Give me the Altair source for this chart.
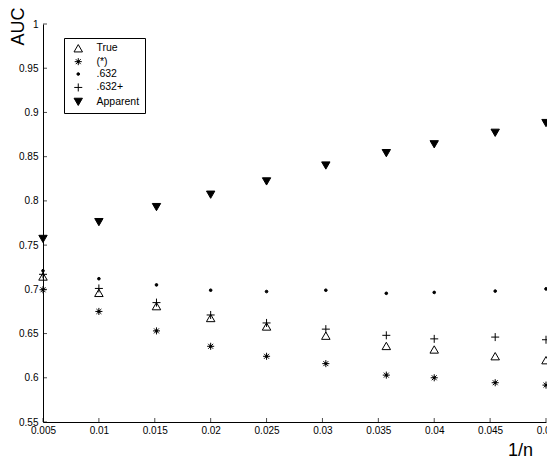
import altair as alt
import pandas as pd

# 1/n values (n = 200, 100, 66, 50, 40, 33, 28, 25, 22, 20)
x_vals = [0.005, 0.01, 0.015152, 0.02, 0.025, 0.030303, 0.035714, 0.04, 0.045455, 0.05]

series_names = ["True", "(*)", ".632", ".632+", "Apparent"]

true_vals = [0.7145, 0.696, 0.681, 0.6676, 0.658, 0.6476, 0.636, 0.632, 0.6244, 0.6199]
star_vals = [0.6995, 0.675, 0.653, 0.6356, 0.6243, 0.616, 0.603, 0.600, 0.5944, 0.5917]
b632_vals = [0.721, 0.712, 0.705, 0.699, 0.6975, 0.699, 0.6955, 0.6965, 0.698, 0.7005]
b632p_vals = [0.717, 0.701, 0.685, 0.671, 0.662, 0.655, 0.648, 0.644, 0.646, 0.643]
apparent_vals = [0.757, 0.776, 0.793, 0.807, 0.822, 0.840, 0.854, 0.864, 0.877, 0.888]

x_ticks = [0.005, 0.01, 0.015, 0.02, 0.025, 0.03, 0.035, 0.04, 0.045, 0.05]
y_ticks = [0.55, 0.6, 0.65, 0.7, 0.75, 0.8, 0.85, 0.9, 0.95, 1.0]

all_vals = [true_vals, star_vals, b632_vals, b632p_vals, apparent_vals]
rows = []
for name, vals in zip(series_names, all_vals):
    for x, v in zip(x_vals, vals):
        rows.append({"x": x, "auc": v, "series": name})
df = pd.DataFrame(rows)

W, H = 503, 398
FONT = "Liberation Sans"

asterisk = ("M-1,0L1,0M0,-1L0,1M-0.7,-0.7L0.7,0.7M-0.7,0.7L0.7,-0.7"
            "M-0.35,0L0,-0.35L0.35,0L0,0.35Z")
plus = "M-1,0L1,0M0,-1L0,1"

xscale = alt.Scale(domain=[0.005, 0.05], nice=False, zero=False)
yscale = alt.Scale(domain=[0.55, 1.0], nice=False, zero=False)

legend_common = dict(title=None, orient="none", legendX=21, legendY=14)

points = alt.Chart(df).mark_point(filled=False, stroke="black", strokeWidth=1, opacity=1).encode(
    x=alt.X("x:Q", scale=xscale, title="1/n",
            axis=alt.Axis(values=x_ticks, format="~g", title="1/n", ticks=False,
                          labelFontSize=10, labelPadding=3, labelFont=FONT,
                          labelOverlap=False, labelFlush=False, labelBound=False,
                          titleFontSize=18, titleFont=FONT, titleFontWeight="normal",
                          titleX=477, titleY=28, titleAnchor="start", titleAlign="center",
                          titleBaseline="middle")),
    y=alt.Y("auc:Q", scale=yscale, title="AUC",
            axis=alt.Axis(values=y_ticks, format="~g", title="AUC", ticks=False,
                          labelFontSize=10, labelPadding=5, labelFont=FONT,
                          labelOverlap=False, labelFlush=False, labelBound=False,
                          titleFontSize=18, titleFont=FONT, titleFontWeight="normal",
                          titleX=-25, titleY=2, titleAngle=270, titleAlign="center",
                          titleBaseline="middle", titleAnchor="start")),
    shape=alt.Shape("series:N", sort=series_names,
                    scale=alt.Scale(domain=series_names,
                                    range=["triangle-up", asterisk, "circle", plus, "triangle-down"]),
                    legend=alt.Legend(strokeColor="black", fillColor="white", padding=5,
                                      labelFontSize=10.5, labelFont=FONT, labelOffset=13,
                                      symbolOffset=4, rowPadding=1.4, cornerRadius=0,
                                      symbolStrokeColor="black", symbolStrokeWidth=1,
                                      **legend_common)),
    fill=alt.Fill("series:N", sort=series_names,
                  scale=alt.Scale(domain=series_names,
                                  range=["transparent", "black", "black", "transparent", "black"]),
                  legend=alt.Legend(**legend_common)),
    size=alt.Size("series:N", sort=series_names,
                  scale=alt.Scale(type="ordinal", domain=series_names, range=[72, 50, 7, 64, 70]),
                  legend=alt.Legend(**legend_common)),
)

xt = pd.DataFrame({"t": x_ticks})
yt = pd.DataFrame({"t": y_ticks})

xtick_marks = alt.Chart(xt).mark_tick(orient="vertical", color="black", thickness=1, size=4).encode(
    x=alt.X("t:Q", scale=xscale, title="1/n"),
    y=alt.value(H - 2),
)
ytick_marks = alt.Chart(yt).mark_tick(orient="horizontal", color="black", thickness=1, size=4).encode(
    y=alt.Y("t:Q", scale=yscale, title="AUC"),
    x=alt.value(2),
)

chart = alt.layer(points, xtick_marks, ytick_marks).properties(
    width=W, height=H,
    title=alt.TitleParams("Asymptotic Comparison for Estimators Performance",
                          fontSize=11, font=FONT, fontWeight="normal", anchor="middle",
                          offset=6, color="black"),
    autosize=alt.AutoSizeParams(type="none"),
    padding={"left": 35, "top": 16, "right": 1, "bottom": 37},
).configure_view(stroke=None).configure_axis(
    grid=False, domainColor="black", domainWidth=1, labelColor="black", titleColor="black"
).configure_legend(labelColor="black")

chart.save("out.html", embed_options={"renderer": "svg", "actions": False})
